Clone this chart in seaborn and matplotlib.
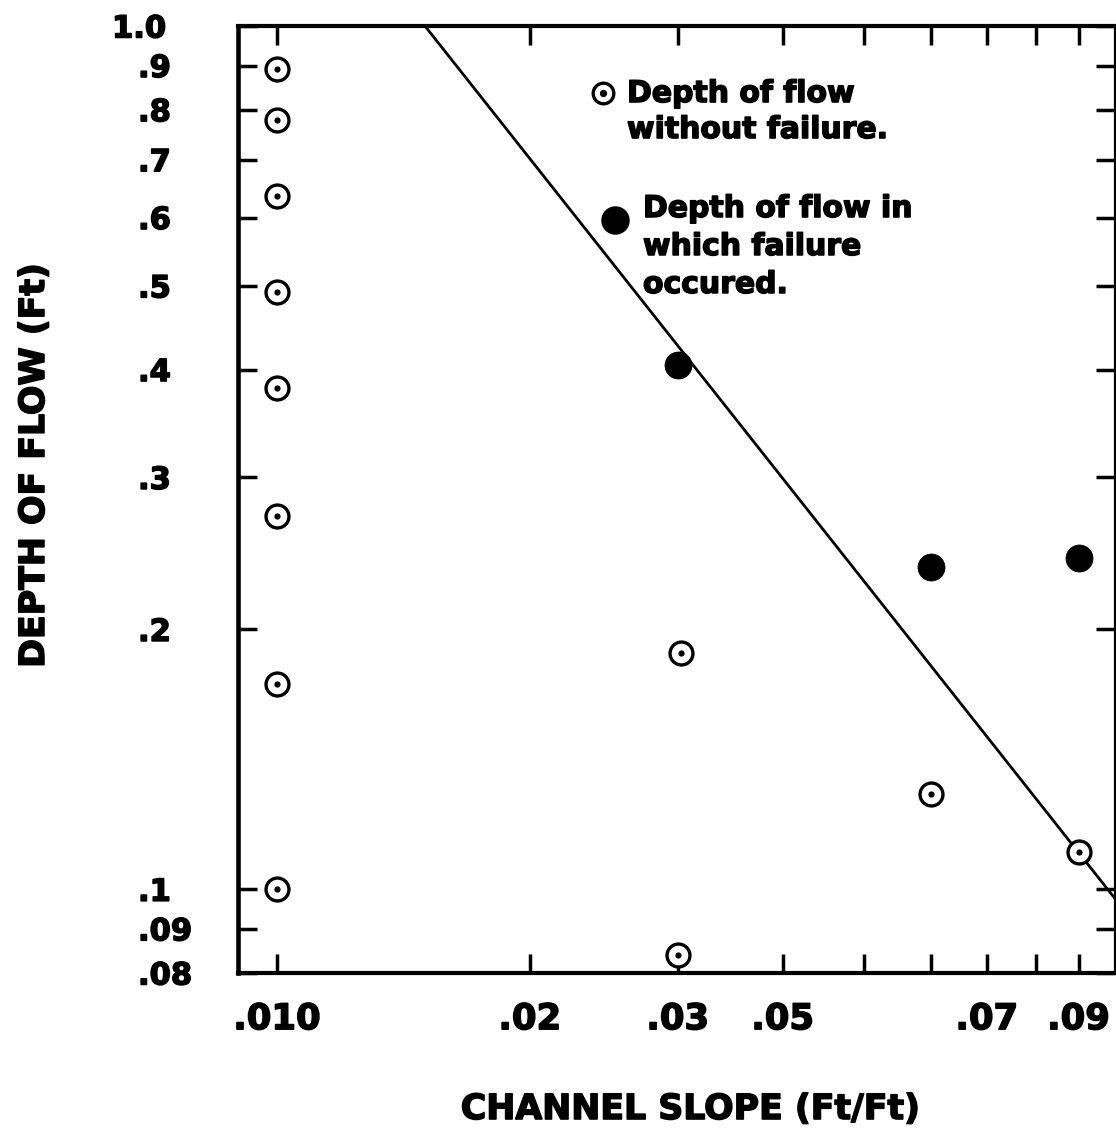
import numpy as np
import pandas as pd
import matplotlib
matplotlib.use("Agg")
import matplotlib.pyplot as plt
import matplotlib.ticker as mticker
import matplotlib.patheffects as pe
import seaborn as sns

# ---------------- data ----------------
# points where flow did not cause failure (open circle with dot)
slope_ok = [0.010, 0.010, 0.010, 0.010, 0.010, 0.010, 0.010, 0.010,
            0.0303, 0.030, 0.060, 0.090]
depth_ok = [0.892, 0.778, 0.635, 0.492, 0.381, 0.2705, 0.173, 0.100,
            0.188, 0.0839, 0.1288, 0.1104]

# points where failure occurred (filled circle)
slope_fail = [0.030, 0.060, 0.090]
depth_fail = [0.405, 0.236, 0.242]

# dividing line (log-log straight line)
line_slope = [0.0150, 0.100]
line_depth = [1.00, 0.0969]

# axis ticks / labels
x_ticks = [0.01, 0.02, 0.03, 0.04, 0.05, 0.06, 0.07, 0.08, 0.09]
x_ticklabels = [".010", ".02", ".03", ".05", "", "", ".07", "", ".09"]
y_ticks = [0.08, 0.09, 0.1, 0.2, 0.3, 0.4, 0.5, 0.6, 0.7, 0.8, 0.9, 1.0]
y_ticklabels = [".08", ".09", ".1", ".2", ".3", ".4", ".5", ".6", ".7", ".8", ".9", "1.0"]

x_label = "CHANNEL SLOPE (Ft/Ft)"
y_label = "DEPTH OF FLOW (Ft)"
legend_ok = ["Depth of flow", "without failure."]
legend_fail = ["Depth of flow in", "which failure", "occured."]

# ---------------- style ----------------
sns.set_style("ticks")
plt.rcParams["font.family"] = ["DejaVu Sans"]
plt.rcParams["font.weight"] = "bold"
for key in ["text.color", "axes.labelcolor", "xtick.color", "ytick.color",
            "xtick.labelcolor", "ytick.labelcolor", "axes.edgecolor"]:
    plt.rcParams[key] = "black"

heavy = [pe.withStroke(linewidth=1.1, foreground="black")]

W, H = 1116, 1135
fig = plt.figure(figsize=(W / 100, H / 100), dpi=100)
ax_l, ax_r, ax_t, ax_b = 238, 1115, 26, 973
ax = fig.add_axes([ax_l / W, (H - ax_b) / H, (ax_r - ax_l) / W, (ax_b - ax_t) / H])

df_ok = pd.DataFrame({"slope": slope_ok, "depth": depth_ok})
df_fail = pd.DataFrame({"slope": slope_fail, "depth": depth_fail})
df_line = pd.DataFrame({"slope": line_slope, "depth": line_depth})

sns.lineplot(data=df_line, x="slope", y="depth", ax=ax, color="black",
             linewidth=2.0, zorder=2, legend=False, sort=False)
sns.scatterplot(data=df_ok, x="slope", y="depth", ax=ax, s=272, color="white",
                edgecolor="black", linewidth=2.4, zorder=3, legend=False)
sns.scatterplot(data=df_ok, x="slope", y="depth", ax=ax, s=20, color="black",
                edgecolor="black", linewidth=0, zorder=4, legend=False)
sns.scatterplot(data=df_fail, x="slope", y="depth", ax=ax, s=380, color="black",
                edgecolor="black", linewidth=0.5, zorder=4, legend=False)

ax.set_xscale("log")
ax.set_yscale("log")
ax.set_xlim(0.008985, 0.09945)
ax.set_ylim(0.08, 1.0)

ax.xaxis.set_major_locator(mticker.FixedLocator(x_ticks))
ax.xaxis.set_minor_locator(mticker.NullLocator())
ax.yaxis.set_major_locator(mticker.FixedLocator(y_ticks))
ax.yaxis.set_minor_locator(mticker.NullLocator())
ax.set_xticks(x_ticks)
ax.set_xticklabels(x_ticklabels)
ax.set_yticks(y_ticks)
ax.set_yticklabels(y_ticklabels)

for side, lw in [("left", 3.3), ("bottom", 3.0), ("top", 3.0), ("right", 1.6)]:
    ax.spines[side].set_visible(True)
    ax.spines[side].set_linewidth(lw)
    ax.spines[side].set_color("black")

ax.tick_params(axis="both", which="major", direction="in", length=14, width=2.5,
               color="black", labelcolor="black", top=True, right=True)
ax.tick_params(axis="x", labelsize=25.5, pad=21)
ax.tick_params(axis="y", labelsize=22, pad=72)
plt.setp(ax.get_yticklabels(), ha="left")
plt.setp(ax.get_xticklabels() + ax.get_yticklabels(), fontweight="bold",
         path_effects=heavy)

ax.set_xlabel(x_label, fontsize=25, fontweight="bold", color="black", path_effects=heavy)
ax.set_ylabel(y_label, fontsize=25, fontweight="bold", color="black", path_effects=heavy)
ax.xaxis.set_label_coords(0.5165, -0.1257)
ax.yaxis.label.set_va("center")
ax.yaxis.set_label_coords(-0.2326, 0.5364)

# ---------------- in-plot legend ----------------
ax.scatter([0.4162], [0.9292], transform=ax.transAxes, s=220, facecolor="white",
           edgecolor="black", linewidth=2.4, zorder=5, clip_on=False)
ax.scatter([0.4162], [0.9292], transform=ax.transAxes, s=18, color="black",
           zorder=6, clip_on=False)
ax.scatter([0.4299], [0.7951], transform=ax.transAxes, s=380, color="black",
           zorder=5, clip_on=False)

for txt, yb in zip(legend_ok, [0.9197, 0.8817]):
    ax.text(0.4436, yb, txt, transform=ax.transAxes, fontsize=21.5, color="black",
            fontweight="bold", ha="left", va="baseline", path_effects=heavy)
for txt, yb in zip(legend_fail, [0.7983, 0.7582, 0.7181]):
    ax.text(0.4618, yb, txt, transform=ax.transAxes, fontsize=21.5, color="black",
            fontweight="bold", ha="left", va="baseline", path_effects=heavy)

# "1.0" label sits further left (right-aligned with the others' right edge)
for lab in ax.get_yticklabels():
    if lab.get_text() == "1.0":
        lab.set_x(-26 / (ax_r - ax_l))

fig.savefig("out.png", dpi=100)
